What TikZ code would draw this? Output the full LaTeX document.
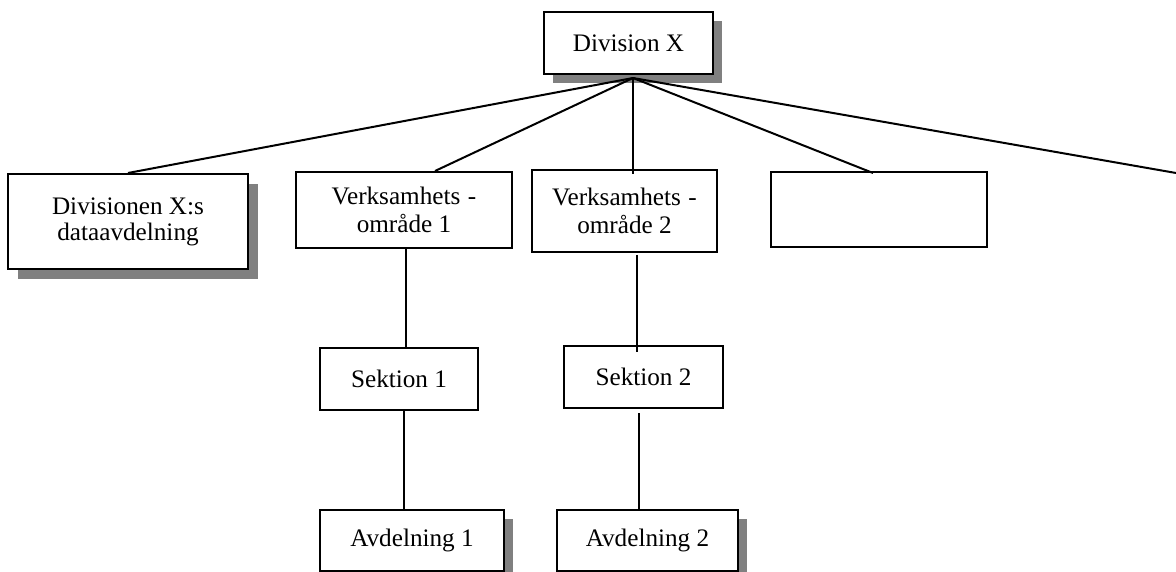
\documentclass[tikz,border=0pt]{standalone}
\usepackage{fontspec}
\setmainfont{Liberation Serif}
\usetikzlibrary{shadows}
\definecolor{shadowgray}{RGB}{128,128,128}
\begin{document}
\begin{tikzpicture}[x=1pt,y=-1pt,
  box/.style={draw=black, line width=2pt, fill=white, inner sep=0pt,
    align=center, font=\fontsize{25.2}{26}\selectfont},
  twoline/.style={font=\fontsize{25.2}{28}\selectfont},
  shadowed/.style={general shadow={fill=shadowgray, shadow xshift=#1, shadow yshift=-#1}},
  link/.style={draw=black, line width=2pt}]
  % page frame
  \clip (0,0) rectangle (1176,572);
  \fill[white] (0,0) rectangle (1176,572);

  % boxes
  \node[box, shadowed=9pt, minimum width=169pt, minimum height=62pt] (div) at (628.5,43) {Division X};
  \node[box, shadowed=10pt, minimum width=240pt, minimum height=95pt] (dat) at (128,221.5) {Divisionen X:s\\dataavdelning};
  \node[box, twoline, minimum width=216pt, minimum height=76pt] (v1) at (404,210) {Verksamhets\hspace{0.3em}-\\område 1};
  \node[box, twoline, minimum width=185pt, minimum height=82pt] (v2) at (624.5,211) {Verksamhets\hspace{0.3em}-\\område 2};
  \node[box, minimum width=216pt, minimum height=75pt] (blank) at (879,209.5) {};
  \node[box, minimum width=158pt, minimum height=62pt] (s1) at (399,379) {Sektion 1};
  \node[box, minimum width=159pt, minimum height=62pt] (s2) at (643.5,377) {Sektion 2};
  \node[box, shadowed=9pt, minimum width=184pt, minimum height=61pt] (a1) at (412,540.5) {Avdelning 1};
  \node[box, shadowed=9pt, minimum width=181pt, minimum height=61pt] (a2) at (647.5,540.5) {Avdelning 2};

  % fan-out point under the top box and the free end at the right edge
  \coordinate (hub) at (633,78);
  \coordinate (offright) at (1176,173);

  % connectors
  \draw[link] (hub) -- (dat.north);
  \draw[link] (hub) -- ([xshift=31pt]v1.north);
  \draw[link] (hub) -- ([xshift=8.5pt,yshift=-5pt]v2.north);
  \draw[link] (hub) -- ([xshift=-6pt,yshift=-2pt]blank.north);
  \draw[link] (hub) -- (offright);

  \draw[link] ([xshift=2pt]v1.south) -- ([xshift=7pt]s1.north);
  \draw[link] ([xshift=5pt]s1.south) -- ([xshift=-8pt]a1.north);
  \draw[link] ([xshift=12.5pt,yshift=-2pt]v2.south) -- ([xshift=-6.5pt,yshift=-7pt]s2.north);
  \draw[link] ([xshift=-4.5pt,yshift=-4pt]s2.south) -- ([xshift=-8.5pt]a2.north);
\end{tikzpicture}
\end{document}
